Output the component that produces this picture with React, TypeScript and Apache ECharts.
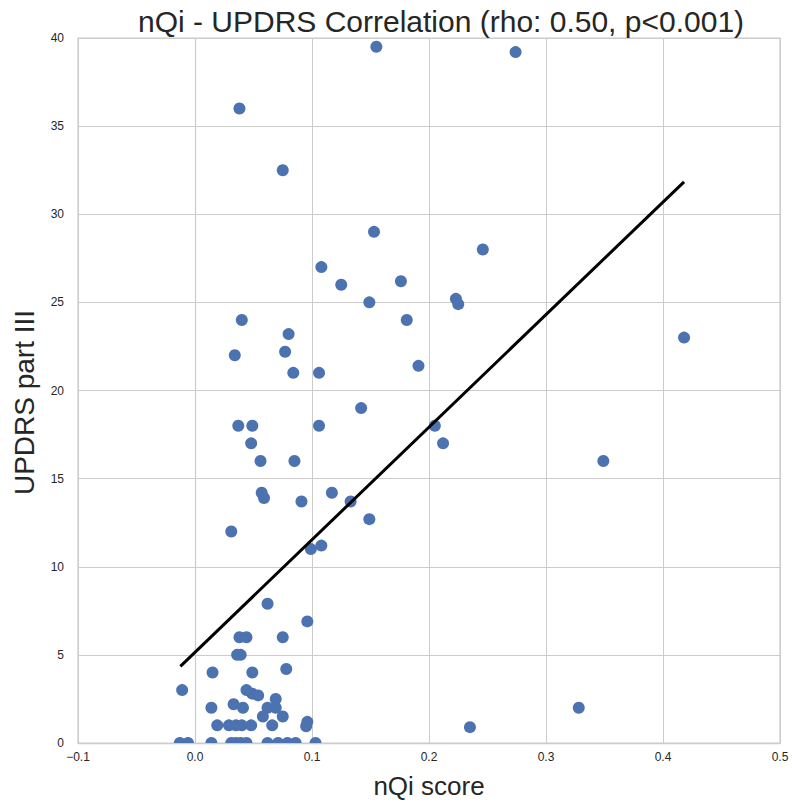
import React, { useEffect, useRef } from "react";
import * as echarts from "echarts";

// nQi score (x) and UPDRS part III (y) for each subject
const nqiScore: number[] = [
  0.155, 0.274, 0.038, 0.075, 0.153, 0.246, 0.108, 0.125, 0.176, 0.223,
  0.225, 0.149, 0.040, 0.181, 0.080, 0.418, 0.077, 0.034, 0.084, 0.106,
  0.191, 0.142, 0.037, 0.049, 0.106, 0.205, 0.212, 0.048, 0.056, 0.085,
  0.349, 0.057, 0.059, 0.117, 0.091, 0.133, 0.149, 0.031, 0.108, 0.099,
  0.062, 0.096, 0.038, 0.044, 0.075, 0.036, 0.039, 0.078, 0.015, 0.049,
  -0.011, 0.044, 0.049, 0.054, 0.069, 0.062, 0.069, 0.014, 0.033, 0.041,
  0.058, 0.075, 0.019, 0.029, 0.035, 0.040, 0.048, 0.066, 0.096, 0.095,
  0.328, 0.235,
  -0.013, -0.006, 0.014, 0.031, 0.035, 0.039, 0.044, 0.062, 0.071, 0.079,
  0.086, 0.103,
];
const updrs: number[] = [
  39.5, 39.2, 36.0, 32.5, 29.0, 28.0, 27.0, 26.0, 26.2, 25.2,
  24.9, 25.0, 24.0, 24.0, 23.2, 23.0, 22.2, 22.0, 21.0, 21.0,
  21.4, 19.0, 18.0, 18.0, 18.0, 18.0, 17.0, 17.0, 16.0, 16.0,
  16.0, 14.2, 13.9, 14.2, 13.7, 13.7, 12.7, 12.0, 11.2, 11.0,
  7.9, 6.9, 6.0, 6.0, 6.0, 5.0, 5.0, 4.2, 4.0, 4.0,
  3.0, 3.0, 2.8, 2.7, 2.5, 2.0, 2.0, 2.0, 2.2, 2.0,
  1.5, 1.5, 1.0, 1.0, 1.0, 1.0, 1.0, 1.0, 1.2, 0.95,
  2.0, 0.9,
  0, 0, 0, 0, 0, 0, 0, 0, 0, 0,
  0, 0,
];

// regression line end points
const fitX: number[] = [-0.0125, 0.418];
const fitY: number[] = [4.35, 31.84];

const xTicks: number[] = [-0.1, 0.0, 0.1, 0.2, 0.3, 0.4, 0.5];
const yTicks: number[] = [0, 5, 10, 15, 20, 25, 30, 35, 40];

const FONT = "'Liberation Sans', Arial, sans-serif";

export default function App() {
  const ref = useRef<HTMLDivElement>(null);

  useEffect(() => {
    if (!ref.current) return;
    const chart = echarts.init(ref.current, undefined, { renderer: "svg" });
    const points = nqiScore.map((x, i) => [x, updrs[i]]);
    const grid = { left: 78, right: 12, top: 38, bottom: 61 };

    chart.setOption({
      animation: false,
      backgroundColor: "#ffffff",
      title: {
        text: "nQi - UPDRS Correlation (rho: 0.50, p<0.001)",
        left: 436,
        textAlign: "center",
        top: 1,
        textStyle: {
          fontFamily: FONT,
          fontSize: 30,
          fontWeight: "normal",
          color: "#262626",
        },
      },
      grid: {
        ...grid,
        show: true,
        borderColor: "#cccccc",
        borderWidth: 1.25,
        backgroundColor: "transparent",
      },
      xAxis: {
        type: "value",
        min: xTicks[0],
        max: xTicks[xTicks.length - 1],
        interval: 0.1,
        name: "nQi score",
        nameLocation: "middle",
        nameGap: 30,
        nameTextStyle: { fontFamily: FONT, fontSize: 26, color: "#262626" },
        axisLine: { show: true, lineStyle: { color: "#cccccc", width: 1.25 } },
        axisTick: { show: false },
        axisLabel: {
          margin: 8,
          fontFamily: FONT,
          fontSize: 12,
          color: "#262626",
          formatter: (v: number) => {
            const s = Math.abs(v).toFixed(1);
            return v < -1e-9 ? "\u2212" + s : s;
          },
        },
        splitLine: { show: true, lineStyle: { color: "#cccccc", width: 1 } },
      },
      yAxis: {
        type: "value",
        min: yTicks[0],
        max: yTicks[yTicks.length - 1],
        interval: 5,
        name: "UPDRS part III",
        nameLocation: "middle",
        nameGap: 40,
        nameTextStyle: {
          fontFamily: FONT,
          fontSize: 28,
          color: "#262626",
          padding: [0, 24, 0, 0],
        },
        axisLine: { show: true, lineStyle: { color: "#cccccc", width: 1.25 } },
        axisTick: { show: false },
        axisLabel: {
          margin: 14,
          fontFamily: FONT,
          fontSize: 12,
          color: "#262626",
        },
        splitLine: { show: true, lineStyle: { color: "#cccccc", width: 1 } },
      },
      series: [
        {
          type: "custom",
          clip: true,
          data: points,
          renderItem: (params: any, api: any) => {
            const c = api.coord([api.value(0), api.value(1)]);
            return {
              type: "circle",
              shape: { cx: c[0], cy: c[1], r: 6 },
              style: { fill: "#4c72b0" },
            };
          },
          z: 2,
        },
        {
          type: "line",
          data: fitX.map((x, i) => [x, fitY[i]]),
          symbol: "none",
          lineStyle: { color: "#000000", width: 3 },
          z: 3,
        },
      ],
    });

    return () => {
      chart.dispose();
    };
  }, []);

  return (
    <div
      ref={ref}
      style={{ position: "fixed", left: 0, top: 0, width: 792, height: 804 }}
    />
  );
}
